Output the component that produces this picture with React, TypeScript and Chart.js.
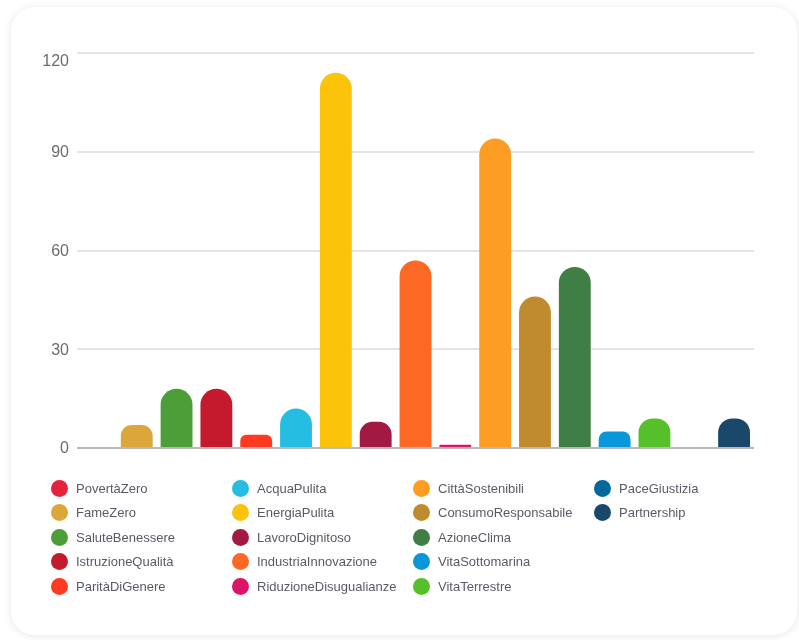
import React, { useEffect, useRef } from "react";
import { Chart, registerables } from "chart.js";

Chart.register(...registerables);

const categories = [
  "PovertàZero",
  "FameZero",
  "SaluteBenessere",
  "IstruzioneQualità",
  "ParitàDiGenere",
  "AcquaPulita",
  "EnergiaPulita",
  "LavoroDignitoso",
  "IndustriaInnovazione",
  "RiduzioneDisugualianze",
  "CittàSostenibili",
  "ConsumoResponsabile",
  "AzioneClima",
  "VitaSottomarina",
  "VitaTerrestre",
  "PaceGiustizia",
  "Partnership",
];

const values = [0, 7, 18, 18, 4, 12, 114, 8, 57, 1, 94, 46, 55, 5, 9, 0, 9];

const colors = [
  "#E5243B",
  "#DDA63A",
  "#4C9F38",
  "#C5192D",
  "#FF3A21",
  "#26BDE2",
  "#FCC30B",
  "#A21942",
  "#FD6925",
  "#DD1367",
  "#FD9D24",
  "#BF8B2E",
  "#3F7E44",
  "#0A97D9",
  "#56C02B",
  "#00689D",
  "#19486A",
];

const yTicks = [0, 30, 60, 90, 120];

const tickLabelPlugin = {
  id: "tickLabels",
  afterDraw(chart: any) {
    const scale = chart.scales.y;
    const ctx = chart.ctx;
    ctx.save();
    ctx.font = "16px Arial, 'Liberation Sans', sans-serif";
    ctx.fillStyle = "#6b6b6b";
    ctx.textAlign = "right";
    ctx.textBaseline = "middle";
    const top = yTicks[yTicks.length - 1];
    yTicks.forEach((v) => {
      let y = scale.getPixelForValue(v);
      if (v === top) y += 8;
      ctx.fillText(String(v), chart.chartArea.left - 8, y + 1);
    });
    ctx.restore();
  },
};

export default function App() {
  const canvasRef = useRef<HTMLCanvasElement | null>(null);

  useEffect(() => {
    if (!canvasRef.current) return;
    const chart = new Chart(canvasRef.current, {
      type: "bar",
      data: {
        labels: categories,
        datasets: [
          {
            label: "SDG",
            data: values,
            backgroundColor: colors,
            borderRadius: 16,
            borderSkipped: "start",
            categoryPercentage: 1,
            barPercentage: 0.8,
          },
        ],
      },
      plugins: [tickLabelPlugin],
      options: {
        animation: false,
        responsive: false,
        maintainAspectRatio: false,
        layout: { padding: { left: 10, right: 43, top: 46, bottom: 19 } },
        plugins: { legend: { display: false }, tooltip: { enabled: false } },
        scales: {
          x: { display: false },
          y: {
            min: 0,
            max: 120,
            afterFit: (scale: any) => {
              scale.width = 56;
            },
            afterBuildTicks: (scale: any) => {
              scale.ticks = yTicks.map((v) => ({ value: v }));
            },
            border: { display: false },
            grid: {
              color: (ctx: any) => (ctx.tick && ctx.tick.value === 0 ? "#b8b8b8" : "#e4e4e4"),
              lineWidth: 2,
              drawTicks: false,
            },
            ticks: { display: false },
          },
        },
      },
    });
    return () => chart.destroy();
  }, []);

  const rows = 5;
  return (
    <div
      style={{
        position: "fixed",
        left: 11,
        top: 7,
        width: 786,
        height: 628,
        background: "#fff",
        borderRadius: 24,
        boxShadow: "0 1px 8px rgba(0,0,0,0.10)",
        fontFamily: "Arial, 'Liberation Sans', sans-serif",
      }}
    >
      <canvas
        ref={canvasRef}
        width={786}
        height={460}
        style={{ position: "absolute", left: 0, top: 0, width: 786, height: 460 }}
      />
      <div
        style={{
          position: "absolute",
          left: 40,
          top: 469,
          display: "grid",
          gridTemplateColumns: "181px 181px 181px 181px",
          gridTemplateRows: `repeat(${rows}, 24.5px)`,
          gridAutoFlow: "column",
        }}
      >
        {categories.map((c, i) => (
          <div key={c} style={{ display: "flex", alignItems: "center", height: 24.5 }}>
            <span
              style={{
                display: "inline-block",
                width: 17,
                height: 17,
                borderRadius: "50%",
                background: colors[i],
                marginRight: 8,
                flex: "0 0 auto",
              }}
            />
            <span style={{ fontSize: 13, color: "#5a5a66", whiteSpace: "nowrap" }}>{c}</span>
          </div>
        ))}
      </div>
    </div>
  );
}
